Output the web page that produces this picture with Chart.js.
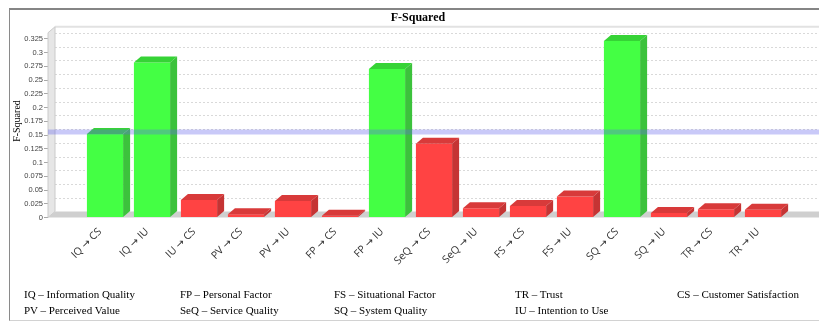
<!DOCTYPE html>
<html>
<head>
<meta charset="utf-8">
<script src="https://cdn.jsdelivr.net/npm/chart.js@4/dist/chart.umd.min.js"></script>
<style>
  html, body { margin: 0; padding: 0; background: #fff; }
  #wrap { position: relative; width: 819px; height: 322px; overflow: hidden; }
  #frame { position: absolute; left: 9px; top: 8px; width: 812px; height: 313px; box-sizing: border-box;
           border-top: 2px solid #858585; border-left: 1px solid #8a8a8a; border-bottom: 1px solid #d2d2d2; }
  #c { position: absolute; left: 0; top: 0; }
  #title { position: absolute; left: 318px; width: 200px; top: 10px; text-align: center;
           font: bold 12px "Liberation Serif", "Times New Roman", serif; color: #000; }
  .key { position: absolute; font: 11px "Liberation Serif", "Times New Roman", serif; color: #000;
         white-space: nowrap; line-height: 13px; }
</style>
</head>
<body>
<div id="wrap">
  <div id="frame"></div>
  <canvas id="c" width="819" height="322"></canvas>
  <div id="title">F-Squared</div>
</div>
<script>
// Paths between constructs and their effect sizes
const paths = ['IQ → CS', 'IQ → IU', 'IU → CS', 'PV → CS', 'PV → IU', 'FP → CS', 'FP → IU',
               'SeQ → CS', 'SeQ → IU', 'FS → CS', 'FS → IU', 'SQ → CS', 'SQ → IU', 'TR → CS', 'TR → IU'];
const fSquared = [0.152, 0.282, 0.032, 0.006, 0.030, 0.003, 0.270,
                  0.134, 0.017, 0.021, 0.038, 0.321, 0.008, 0.015, 0.014];
const threshold = 0.15;
const yTicksMax = 0.325;
const yTickStep = 0.025;

// Abbreviation key shown under the chart (two rows, five columns)
const keyRow1 = ['IQ – Information Quality', 'FP – Personal Factor', 'FS – Situational Factor', 'TR – Trust', 'CS – Customer Satisfaction'];
const keyRow2 = ['PV – Perceived Value', 'SeQ – Service Quality', 'SQ – System Quality', 'IU – Intention to Use'];

const keyCols = [24, 180, 334, 515, 677];
const keyTops = [288, 304];
const wrap = document.getElementById('wrap');
[keyRow1, keyRow2].forEach((row, r) => {
  row.forEach((txt, i) => {
    const d = document.createElement('div');
    d.className = 'key';
    d.style.left = keyCols[i] + 'px';
    d.style.top = keyTops[r] + 'px';
    d.textContent = txt;
    wrap.appendChild(d);
  });
});

// 3D look: depth offset of the bars / walls
const DX = 7, DY = -6;
const palette = {
  strong: { front: '#44ff44', top: '#36d336', side: '#3cc23c' },
  weak:   { front: '#ff4343', top: '#d83a3a', side: '#c53434' }
};
const tone = v => (v >= threshold ? palette.strong : palette.weak);

const threeD = {
  id: 'threeD',
  beforeDatasetsDraw(chart) {
    const { ctx, chartArea: a, scales: { y } } = chart;
    const x0 = a.left, x1 = chart.width;
    const yb = y.getPixelForValue(0);
    const wallTop = a.top - 12;
    ctx.save();
    // back wall top edge
    ctx.strokeStyle = '#e2e2e2';
    ctx.lineWidth = 2;
    ctx.beginPath(); ctx.moveTo(x0 + DX, wallTop); ctx.lineTo(x1, wallTop); ctx.stroke();
    // dotted grid on the back wall
    ctx.strokeStyle = '#d9d9d9';
    ctx.lineWidth = 1;
    ctx.setLineDash([2, 2]);
    y.ticks.forEach(t => {
      if (t.value === 0) return;
      const py = Math.round(y.getPixelForValue(t.value) + DY) + 0.5;
      ctx.beginPath(); ctx.moveTo(x0 + DX, py); ctx.lineTo(x1, py); ctx.stroke();
    });
    ctx.setLineDash([]);
    // left wall
    ctx.fillStyle = '#e6e6e6';
    ctx.strokeStyle = '#cacaca';
    ctx.beginPath();
    ctx.moveTo(x0, wallTop - DY);
    ctx.lineTo(x0 + DX, wallTop);
    ctx.lineTo(x0 + DX, yb + DY);
    ctx.lineTo(x0, yb);
    ctx.closePath();
    ctx.fill(); ctx.stroke();
    // floor
    ctx.fillStyle = '#cfcfcf';
    ctx.beginPath();
    ctx.moveTo(x0, yb);
    ctx.lineTo(x0 + DX, yb + DY);
    ctx.lineTo(x1, yb + DY);
    ctx.lineTo(x1, yb);
    ctx.closePath();
    ctx.fill();
    ctx.restore();
  },
  afterDatasetsDraw(chart) {
    const { ctx, chartArea: a, scales: { y } } = chart;
    const meta = chart.getDatasetMeta(0);
    ctx.save();
    meta.data.forEach((el, i) => {
      const { x, y: top, base, width } = el.getProps(['x', 'y', 'base', 'width'], true);
      const L = x - width / 2, R = x + width / 2;
      const c = tone(fSquared[i]);
      ctx.fillStyle = c.top;
      ctx.beginPath();
      ctx.moveTo(L, top); ctx.lineTo(L + DX, top + DY); ctx.lineTo(R + DX, top + DY); ctx.lineTo(R, top);
      ctx.closePath(); ctx.fill();
      ctx.fillStyle = c.side;
      ctx.beginPath();
      ctx.moveTo(R, top); ctx.lineTo(R + DX, top + DY); ctx.lineTo(R + DX, base + DY); ctx.lineTo(R, base);
      ctx.closePath(); ctx.fill();
    });
    // threshold band
    const py = y.getPixelForValue(threshold) + DY / 2;
    ctx.fillStyle = 'rgba(100, 100, 235, 0.35)';
    ctx.fillRect(a.left, py - 2.5, chart.width - a.left, 5);
    ctx.restore();
  },
  afterDraw(chart) {
    const { ctx } = chart;
    ctx.save();
    ctx.translate(17, 121);
    ctx.rotate(-Math.PI / 2);
    ctx.font = '10px "Liberation Serif", "Times New Roman", serif';
    ctx.fillStyle = '#000';
    ctx.textAlign = 'center';
    ctx.textBaseline = 'middle';
    ctx.fillText('F-Squared', 0, 0);
    ctx.restore();
  }
};

new Chart(document.getElementById('c'), {
  type: 'bar',
  data: {
    datasets: [{
      data: fSquared.map((v, i) => ({ x: i, y: v })),
      backgroundColor: fSquared.map(v => tone(v).front),
      borderWidth: 0,
      categoryPercentage: 1,
      barPercentage: 0.77,
      clip: false
    }]
  },
  options: {
    responsive: false,
    animation: false,
    devicePixelRatio: 1,
    events: [],
    layout: { padding: { left: 10, top: 38.75, right: 0, bottom: 44.5 } },
    plugins: { legend: { display: false }, title: { display: false }, tooltip: { enabled: false } },
    scales: {
      x: {
        type: 'linear',
        offset: false,
        min: -1.213,
        max: 15.191,
        grid: { display: false, drawTicks: false, offset: false },
        border: { display: false },
        afterBuildTicks: s => { s.ticks = paths.map((_, i) => ({ value: i })); },
        afterFit: s => { s.height = 60; },
        ticks: {
          autoSkip: false,
          minRotation: 45,
          maxRotation: 45,
          padding: 8,
          labelOffset: -5,
          color: '#333',
          font: { family: '"Open Sans", "DejaVu Sans", sans-serif', size: 10.5 },
          callback: v => paths[v] ?? ''
        }
      },
      y: {
        min: 0,
        max: yTicksMax,
        afterFit: s => { s.width = 38; },
        grid: { drawOnChartArea: false, drawTicks: true, tickLength: 4, color: '#a8a8a8' },
        border: { display: false },
        ticks: {
          stepSize: yTickStep,
          padding: 1,
          color: '#444',
          font: { family: '"Liberation Sans", Arial, sans-serif', size: 7.5 },
          callback: v => String(+v.toFixed(3))
        }
      }
    }
  },
  plugins: [threeD]
});
</script>
</body>
</html>
